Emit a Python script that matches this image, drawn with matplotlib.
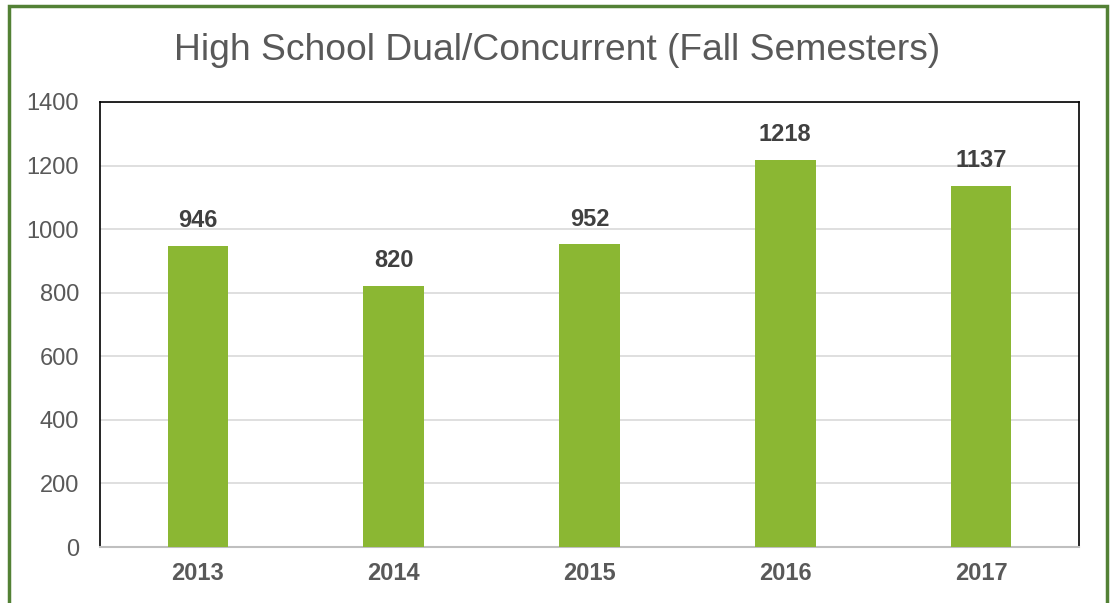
import matplotlib
matplotlib.use("Agg")
import matplotlib.pyplot as plt
from matplotlib.patches import Rectangle

years = ["2013", "2014", "2015", "2016", "2017"]
values = [946, 820, 952, 1218, 1137]
yticks = [0, 200, 400, 600, 800, 1000, 1200, 1400]
title = "High School Dual/Concurrent (Fall Semesters)"

plt.rcParams['font.family'] = ['Liberation Sans', 'DejaVu Sans']

fig = plt.figure(figsize=(11.13, 6.03), dpi=100)
ax = fig.add_axes([100/1113, 1-547/603, (1079-100)/1113, (547-102)/603])

x = list(range(len(years)))
bars = ax.bar(x, values, width=0.31, color='#8BB733', zorder=3)
ax.set_xlim(-0.5, len(years)-0.5)
ax.set_ylim(0, 1400)
ax.set_yticks(yticks)
ax.set_yticklabels([str(t) for t in yticks], fontsize=17, color='#595959')
ax.set_xticks(x)
ax.set_xticklabels(years, fontsize=17, fontweight='bold', color='#595959')
ax.tick_params(axis='both', length=0)
ax.tick_params(axis='y', pad=15)
ax.tick_params(axis='x', pad=11)
ax.grid(axis='y', color='#D9D9D9', linewidth=1.2, zorder=0)
for side in ['left', 'top', 'right']:
    ax.spines[side].set_color('black')
    ax.spines[side].set_linewidth(1.2)
ax.spines['bottom'].set_color('#BFBFBF')
ax.spines['bottom'].set_linewidth(1.5)

for xi, v in zip(x, values):
    ax.annotate(str(v), (xi, v), xytext=(0, 10), textcoords='offset points',
                ha='center', va='bottom', fontsize=17, fontweight='bold', color='#404040')

fig.text(557/1113, 1-51/603, title, ha='center', va='center', fontsize=26.8, color='#595959')

fig.patches.append(Rectangle((9/1113, -0.05), (1107-9)/1113, 1.05 - 6/603,
                             transform=fig.transFigure, fill=False,
                             edgecolor='#538135', linewidth=2.5, figure=fig))

fig.savefig("out.png", dpi=100)
